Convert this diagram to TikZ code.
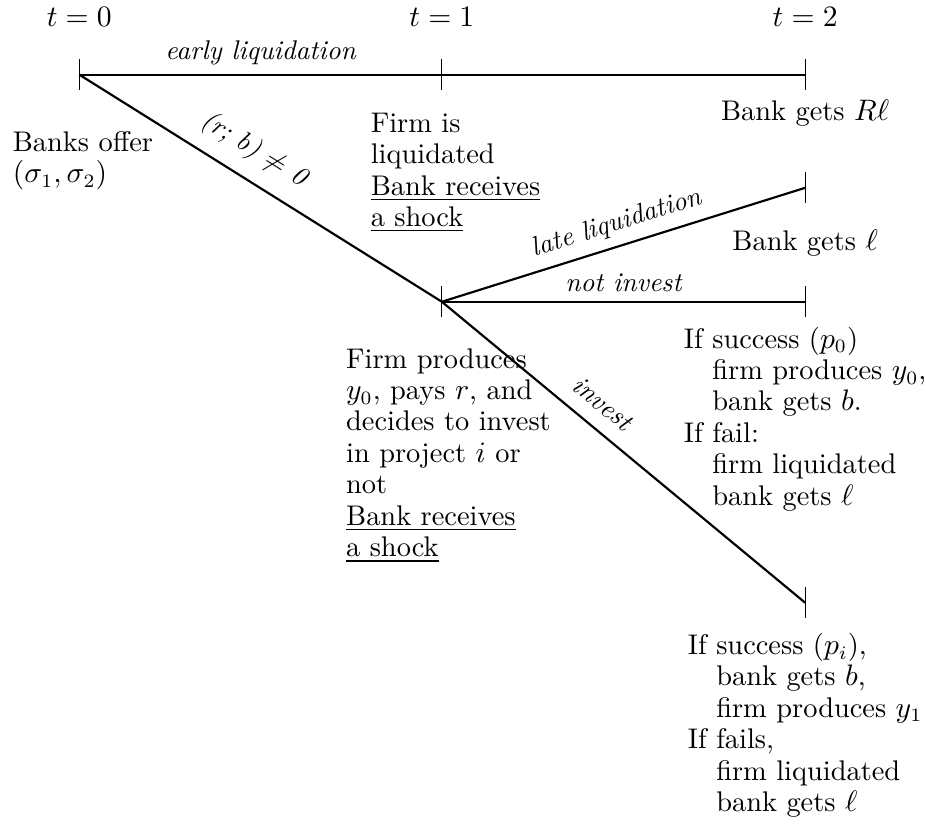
\documentclass[tikz,border=0pt]{standalone}
\usepackage{amsmath}
\usetikzlibrary{calc}

\begin{document}
\begin{tikzpicture}[font=\fontsize{10.5}{11.6}\selectfont,
    branch/.style={thick},
    tick/.style={thin},
    edgelabel/.style={font=\fontsize{10}{12}\selectfont\itshape},
    outcome/.style={align=left,inner sep=0pt}]
    \useasboundingbox (-1.03,0.97) rectangle (11.0,-9.94);

    % Dates and decision points
    \coordinate (t0) at (0,0);
    \coordinate (t1) at (4.71,0);
    \coordinate (t2) at (9.43,0);
    \coordinate (fork) at (4.71,-2.95);
    \coordinate (late) at (9.43,-1.47);
    \coordinate (noinv) at (9.43,-2.95);
    \coordinate (inv) at (9.43,-6.86);

    \foreach \c/\t in {t0/0,t1/1,t2/2}{
      \node (lab\c) at ($(\c)+(0,0.75)$) {$t=\t$};
    }

    % Branches
    \draw[branch] (t0) -- node[edgelabel,above] {early liquidation} (t1) -- (t2);
    \draw[branch] (t0) -- node[sloped,above=2pt,pos=0.44,font=\itshape]
      {(r; b) $\neq$ 0} (fork);
    \draw[branch] (fork) -- node[edgelabel,sloped,above] {late liquidation} (late);
    \draw[branch] (fork) -- node[edgelabel,above] {not invest} (noinv);
    \draw[branch] (fork) -- node[edgelabel,sloped,above=2pt,pos=0.4] {invest} (inv);

    % Ticks
    \foreach \c in {t0,t1,t2,fork,late,noinv,inv}{
      \draw[tick] ($(\c)+(0,0.2)$) -- ($(\c)+(0,-0.2)$);
    }

    % Outcomes
    \node[outcome,anchor=north west] (offer) at (-0.87,-0.73)
      {Banks offer\\$(\sigma_1,\sigma_2)$};
    \node[outcome,anchor=north west] (liq) at (3.78,-0.49)
      {Firm is\\liquidated\\\underline{Bank receives}\\\underline{a shock}};
    \node[outcome,anchor=north] (getsRl) at ($(t2)+(0,-0.32)$)
      {Bank gets $R\ell$};
    \node[outcome,anchor=north] (getsl) at ($(late)+(0,-0.54)$)
      {Bank gets $\ell$};
    \node[outcome,anchor=north west] (produce) at (3.46,-3.55)
      {Firm produces\\$y_0$, pays $r$, and\\decides to invest\\in project $i$ or\\not\\
       \underline{Bank receives}\\\underline{a shock}};
    \node[outcome,anchor=north] (noinvout) at ($(noinv)+(0,-0.32)$)
      {If success ($p_0$)\\\hspace*{1em}firm produces $y_0$,\\\hspace*{1em}bank gets $b$.\\
       If fail:\\\hspace*{1em}firm liquidated\\\hspace*{1em}bank gets $\ell$};
    \node[outcome,anchor=north] (invout) at ($(inv)+(0,-0.39)$)
      {If success ($p_i$),\\\hspace*{1em}bank gets $b$,\\\hspace*{1em}firm produces $y_1$\\
       If fails,\\\hspace*{1em}firm liquidated\\\hspace*{1em}bank gets $\ell$};
\end{tikzpicture}
\end{document}
